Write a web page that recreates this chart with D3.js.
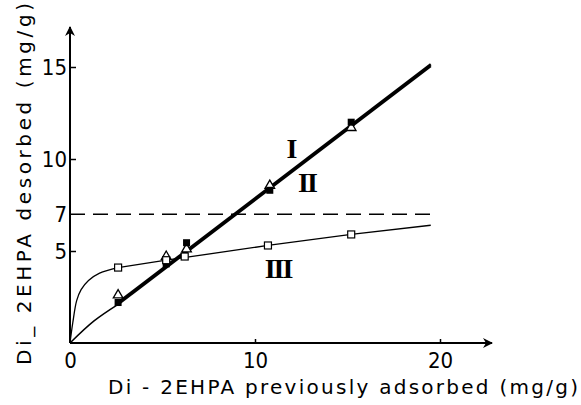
<!DOCTYPE html>
<html>
<head>
<meta charset="utf-8">
<script src="https://cdn.jsdelivr.net/npm/d3@7"></script>
<style>
  body { margin: 0; background: #fff; }
  text { font-family: "DejaVu Sans Condensed", "Liberation Sans Narrow", "Liberation Sans", sans-serif; fill: #000; }
  .title { font-family: "DejaVu Sans", "Liberation Sans", sans-serif; }
  .roman { font-family: "Liberation Serif", "DejaVu Serif", serif; font-weight: bold; }
</style>
</head>
<body>
<div id="chart"></div>
<script>
// Curve I (filled squares) and curve II (open triangles): measured points
const pointsI = [[2.6, 2.2], [5.2, 4.3], [6.3, 5.45], [10.8, 8.3], [15.2, 12.0]];
const pointsII = [[2.6, 2.6], [5.2, 4.7], [6.3, 5.1], [10.8, 8.55], [15.2, 11.7]];
// Curve III (open squares)
const pointsIII = [[2.6, 4.1], [5.2, 4.5], [6.2, 4.7], [10.7, 5.3], [15.2, 5.9]];

// Fitted lines as drawn in the figure
const lineIstart = [[0, 0], [1.3, 1.2], [2.6, 2.1]];
const lineI = [[2.6, 2.1], [19.5, 15.05]];
const lineII = [[2.6, 2.2], [19.5, 15.15]];
const lineIIIstart = [[0, 0], [0.15, 1.1], [0.36, 2.3], [0.6, 2.9], [1.0, 3.4], [1.6, 3.8], [2.6, 4.1]];
const lineIII = [[2.6, 4.1], [5.2, 4.5], [10.7, 5.3], [15.2, 5.9], [19.5, 6.4]];

const limitY = 7;
const limitXEnd = 19.7;

const xTicks = [0, 10, 20];
const yTicks = [5, 7, 10, 15];

const width = 581, height = 405;

const svg = d3.select("#chart").append("svg")
    .attr("width", width)
    .attr("height", height);

const x = d3.scaleLinear().domain([0, 20]).range([70, 440]);
const y = d3.scaleLinear().domain([0, 15]).range([343, 67]);

// Arrow head marker
svg.append("defs").append("marker")
    .attr("id", "arrow")
    .attr("viewBox", "0 0 10 10")
    .attr("refX", 9)
    .attr("refY", 5)
    .attr("markerWidth", 5)
    .attr("markerHeight", 5)
    .attr("markerUnits", "strokeWidth")
    .attr("orient", "auto")
    .append("path")
    .attr("d", "M0,0 L10,5 L0,10 L3,5 Z")
    .attr("fill", "#000");

// Axis lines with arrows
svg.append("line")
    .attr("x1", x(0)).attr("y1", y(0))
    .attr("x2", x(0)).attr("y2", 27)
    .attr("stroke", "#000").attr("stroke-width", 2)
    .attr("marker-end", "url(#arrow)");

svg.append("line")
    .attr("x1", x(0)).attr("y1", y(0))
    .attr("x2", 492).attr("y2", y(0))
    .attr("stroke", "#000").attr("stroke-width", 2)
    .attr("marker-end", "url(#arrow)");

// Axes (ticks and labels)
const xAxis = svg.append("g")
    .attr("transform", `translate(0,${y(0)})`)
    .call(d3.axisBottom(x).tickValues(xTicks).tickSize(-4).tickPadding(9).tickFormat(d3.format("d")));
xAxis.select(".domain").remove();
xAxis.selectAll("line").attr("stroke-width", 1.5);
xAxis.selectAll(".tick line").filter(d => d === 0).remove();
xAxis.selectAll("text").attr("font-size", 22).attr("font-family", null);

const yAxis = svg.append("g")
    .attr("transform", `translate(${x(0)},0)`)
    .call(d3.axisLeft(y).tickValues(yTicks).tickSize(-6).tickPadding(3).tickFormat(d3.format("d")));
yAxis.select(".domain").remove();
yAxis.selectAll("line").attr("stroke-width", 1.5);
yAxis.selectAll(".tick line").filter(d => d === 7).remove();
yAxis.selectAll("text").attr("font-size", 22).attr("font-family", null);

// Dashed limit line at 7 mg/g
svg.append("line")
    .attr("x1", x(0)).attr("x2", x(limitXEnd))
    .attr("y1", y(limitY)).attr("y2", y(limitY))
    .attr("stroke", "#000")
    .attr("stroke-width", 1.6)
    .attr("stroke-dasharray", "15 8");

const line = d3.line().x(d => x(d[0])).y(d => y(d[1]));
const curve = d3.line().x(d => x(d[0])).y(d => y(d[1])).curve(d3.curveCatmullRom);

// Curve III
svg.append("path").datum(lineIIIstart)
    .attr("d", curve).attr("fill", "none")
    .attr("stroke", "#000").attr("stroke-width", 1.3);
svg.append("path").datum(lineIII)
    .attr("d", line).attr("fill", "none")
    .attr("stroke", "#000").attr("stroke-width", 1.3);

// Curve I/II thin part from origin
svg.append("path").datum(lineIstart)
    .attr("d", curve).attr("fill", "none")
    .attr("stroke", "#000").attr("stroke-width", 1.5);

// Lines I and II (almost superimposed)
svg.append("path").datum(lineI)
    .attr("d", line).attr("fill", "none")
    .attr("stroke", "#000").attr("stroke-width", 2.4);
svg.append("path").datum(lineII)
    .attr("d", line).attr("fill", "none")
    .attr("stroke", "#000").attr("stroke-width", 2.4);

// Markers: II open triangles
svg.selectAll(".tri")
    .data(pointsII)
    .enter().append("path")
    .attr("class", "tri")
    .attr("transform", d => `translate(${x(d[0])},${y(d[1])})`)
    .attr("d", d3.symbol(d3.symbolTriangle, 40))
    .attr("fill", "#fff")
    .attr("stroke", "#000")
    .attr("stroke-width", 1.3);

// I filled squares
svg.selectAll(".fsq")
    .data(pointsI)
    .enter().append("rect")
    .attr("class", "fsq")
    .attr("x", d => x(d[0]) - 3.5)
    .attr("y", d => y(d[1]) - 3.5)
    .attr("width", 7)
    .attr("height", 7)
    .attr("fill", "#000");

// III open squares
svg.selectAll(".osq")
    .data(pointsIII)
    .enter().append("rect")
    .attr("class", "osq")
    .attr("x", d => x(d[0]) - 3.5)
    .attr("y", d => y(d[1]) - 3.5)
    .attr("width", 7)
    .attr("height", 7)
    .attr("fill", "#fff")
    .attr("stroke", "#000")
    .attr("stroke-width", 1.2);

// Curve labels
svg.append("text").attr("class", "roman")
    .attr("x", 292).attr("y", 158)
    .attr("text-anchor", "middle")
    .attr("font-size", 28)
    .text("I");
svg.append("text").attr("class", "roman")
    .attr("x", 307).attr("y", 192)
    .attr("text-anchor", "middle")
    .attr("font-size", 28)
    .attr("letter-spacing", -2)
    .text("II");
svg.append("text").attr("class", "roman")
    .attr("x", 278).attr("y", 278)
    .attr("text-anchor", "middle")
    .attr("font-size", 28)
    .attr("letter-spacing", -2)
    .text("III");

// Axis titles
svg.append("text").attr("class", "title")
    .attr("x", 108).attr("y", 394)
    .attr("font-size", 20)
    .attr("textLength", 470)
    .attr("lengthAdjust", "spacing")
    .text("Di - 2EHPA previously adsorbed (mg/g)");

svg.append("text").attr("class", "title")
    .attr("transform", "translate(31,365) rotate(-90)")
    .attr("font-size", 20)
    .attr("textLength", 362)
    .attr("lengthAdjust", "spacing")
    .text("Di_ 2EHPA desorbed (mg/g)");
</script>
</body>
</html>
